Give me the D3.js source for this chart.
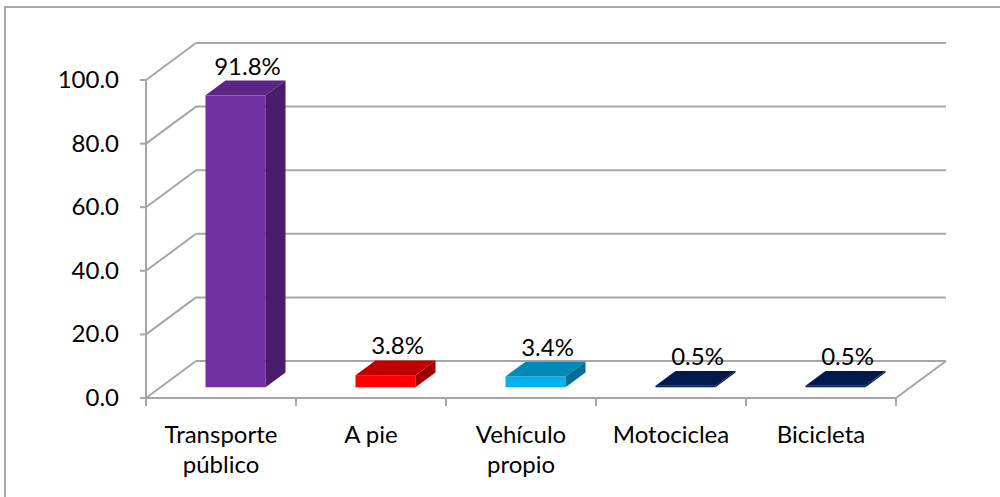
<!DOCTYPE html>
<html>
<head>
<meta charset="utf-8">
<script src="https://cdn.jsdelivr.net/npm/d3@7"></script>
<style>
  body { margin: 0; background: #fff; }
  svg text { font-family: Lato, "Open Sans", sans-serif; fill: #000; }
</style>
</head>
<body>
<svg id="chart" width="1000" height="497"></svg>
<script>
var categories = [["Transporte", "público"], ["A pie"], ["Vehículo", "propio"], ["Motociclea"], ["Bicicleta"]];
var values = [91.8, 3.8, 3.4, 0.5, 0.5];
var yTicks = [0, 20, 40, 60, 80, 100];
var colors = [
  { front: "#7030a0", top: "#5b2585", side: "#4a1d6b" },
  { front: "#ff0000", top: "#c00000", side: "#9e0000" },
  { front: "#00b0f0", top: "#0088b8", side: "#006e96" },
  { front: "#002060", top: "#001a4d", side: "#00153d" },
  { front: "#002060", top: "#001a4d", side: "#00153d" }
];

var svg = d3.select("#chart");

// outer frame
svg.append("rect")
  .attr("x", 5).attr("y", 7)
  .attr("width", 1000).attr("height", 500)
  .attr("fill", "none")
  .attr("stroke", "#8c8c8c")
  .attr("stroke-width", 1.5);

var left = 146, right = 896;
var depthX = 50, depthY = -37;

var x = d3.scaleBand()
  .domain(d3.range(categories.length))
  .range([left, right]);

var y = d3.scaleLinear()
  .domain([0, 100])
  .range([398, 80]);

// offset a point by depth fraction t (0 = front, 1 = back wall)
function off(px, py, t) {
  return [px + depthX * t, py + depthY * t];
}

var grid = svg.append("g")
  .attr("fill", "none")
  .attr("stroke", "#a6a6a6")
  .attr("stroke-width", 2);

// back wall lines and side wall diagonals
yTicks.forEach(function (v) {
  var b = off(left, y(v), 1);
  grid.append("line")
    .attr("x1", b[0]).attr("y1", b[1])
    .attr("x2", right + depthX).attr("y2", b[1]);
  grid.append("line")
    .attr("x1", left).attr("y1", y(v))
    .attr("x2", b[0]).attr("y2", b[1]);
  grid.append("line")
    .attr("x1", left - 6).attr("y1", y(v))
    .attr("x2", left).attr("y2", y(v));
});

// floor front edge and right edge
grid.append("line")
  .attr("x1", left).attr("y1", y(0))
  .attr("x2", right).attr("y2", y(0));
grid.append("line")
  .attr("x1", right).attr("y1", y(0))
  .attr("x2", right + depthX).attr("y2", y(0) + depthY);

// y axis line
grid.append("line")
  .attr("x1", left).attr("y1", y(0))
  .attr("x2", left).attr("y2", y(100));

// category ticks
d3.range(categories.length + 1).forEach(function (i) {
  var tx = left + x.step() * i;
  grid.append("line")
    .attr("x1", tx).attr("y1", y(0))
    .attr("x2", tx).attr("y2", y(0) + 8);
});

// y labels
svg.append("g").selectAll("text")
  .data(yTicks)
  .enter().append("text")
  .attr("x", 119)
  .attr("y", function (d) { return y(d) + 8; })
  .attr("text-anchor", "end")
  .style("font-size", "24px")
  .text(function (d) { return d.toFixed(1); });

// bars
var t0 = 0.29, t1 = 0.69, barW = 60, inset = 45;

function pts(arr) {
  return arr.map(function (p) { return p.join(","); }).join(" ");
}

var bars = svg.append("g");
values.forEach(function (v, i) {
  var fx = x(i) + inset;
  var f0 = off(fx, y(0), t0), f1 = off(fx, y(v), t0);
  var fr = f0[0] + barW;
  var b1 = off(fx, y(v), t1);
  var br = b1[0] + barW;
  var b0 = off(fx, y(0), t1);
  var c = colors[i];

  bars.append("rect")
    .attr("x", f0[0]).attr("y", f1[1])
    .attr("width", barW).attr("height", Math.max(f0[1] - f1[1], 0.5))
    .attr("fill", c.front);
  bars.append("polygon")
    .attr("points", pts([[f1[0], f1[1]], [fr, f1[1]], [br, b1[1]], [b1[0], b1[1]]]))
    .attr("fill", c.top);
  bars.append("polygon")
    .attr("points", pts([[fr, f1[1]], [br, b1[1]], [br, b0[1]], [fr, f0[1]]]))
    .attr("fill", c.side);

  bars.append("text")
    .attr("x", (f1[0] + br) / 2 + 2)
    .attr("y", b1[1] - 6)
    .attr("text-anchor", "middle")
    .style("font-size", "24px")
    .text(v.toFixed(1) + "%");
});

// category labels
var cat = svg.append("g").selectAll("text")
  .data(categories)
  .enter().append("text")
  .attr("text-anchor", "middle")
  .style("font-size", "24px")
  .attr("transform", function (d, i) {
    return "translate(" + (x(i) + x.bandwidth() / 2) + ",443)";
  });
cat.selectAll("tspan")
  .data(function (d) { return d; })
  .enter().append("tspan")
  .attr("x", 0)
  .attr("dy", function (d, j) { return j === 0 ? 0 : 30; })
  .text(function (d) { return d; });
</script>
</body>
</html>
